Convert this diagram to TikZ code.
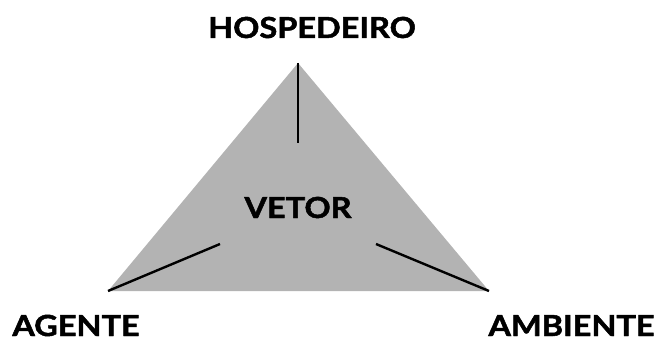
\documentclass[tikz,border=0pt]{standalone}
\usepackage{fontspec}
\setmainfont{Lato}[BoldFeatures={FakeBold=1.6}]
\begin{document}
\begin{tikzpicture}[x=1pt,y=1pt,
  lbl/.style={font=\fontsize{29}{29}\selectfont\bfseries, inner sep=0pt, anchor=base, xscale=1.12, text depth=0pt},
  spoke/.style={line width=2.4pt, black}]
\useasboundingbox (0,0) rectangle (658,338);
\coordinate (top) at (298,275);
\coordinate (bl) at (108,47);
\coordinate (br) at (489,47);
\fill[fill={rgb,255:red,179;green,179;blue,179}] (top) -- (bl) -- (br) -- cycle;
\coordinate (t2) at (298,195);
\coordinate (l2) at (220,94);
\coordinate (r2) at (376,94);
\draw[spoke] (top) -- (t2);
\draw[spoke] (bl) -- (l2);
\draw[spoke] (br) -- (r2);
\node[lbl] (host) at (312,300) {HOSPEDEIRO};
\node[lbl] (vetor) at (298,120) {VETOR};
\node[lbl] (agente) at (76,2) {AGENTE};
\node[lbl] (amb) at (571.5,2) {AMBIENTE};
\end{tikzpicture}
\end{document}
